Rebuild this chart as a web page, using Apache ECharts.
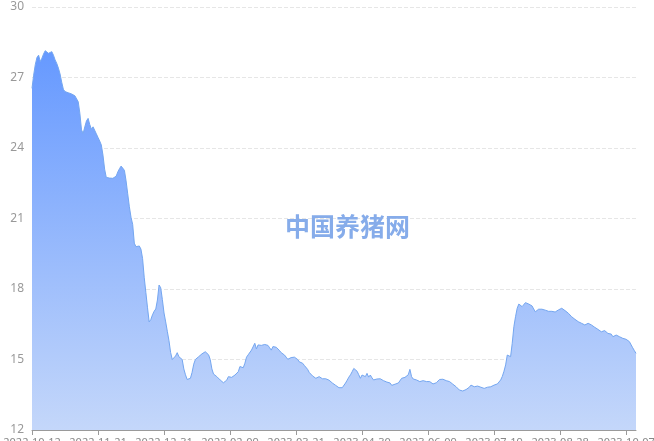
<!DOCTYPE html>
<html>
<head>
<meta charset="utf-8">
<script src="https://cdn.jsdelivr.net/npm/echarts@6/dist/echarts.min.js"></script>
<style>
html,body{margin:0;padding:0;background:#fff;}
#chart{width:654px;height:441px;}
</style>
</head>
<body>
<div id="chart"></div>
<script>
// Category range: daily dates
const startDate = '2022-10-12';
const dayCount = 367;

// Daily price values
const prices = [
26.54,27.1,27.55,27.85,27.95,27.68,27.82,28.0,28.14,28.12,
28.03,28.08,28.1,27.95,27.75,27.6,27.4,27.15,26.8,26.5,
26.4,26.47,26.35,26.38,26.3,26.26,26.22,26.18,25.97,25.48,
24.77,24.62,24.9,25.15,25.26,25.0,24.8,24.9,24.84,24.6,
24.45,24.3,24.13,23.7,23.1,22.75,22.71,22.72,22.7,22.71,
22.74,22.8,22.98,23.12,23.23,23.16,23.05,22.6,22.05,21.5,
21.05,20.75,19.95,19.8,19.88,19.83,19.7,19.3,18.5,17.85,
17.2,16.6,16.7,16.9,17.05,17.15,17.53,18.17,18.05,17.55,
16.98,16.6,16.2,15.8,15.3,15.0,14.95,15.15,15.29,15.12,
15.18,15.0,14.6,14.35,14.15,14.08,14.2,14.45,14.8,15.0,
15.08,15.12,15.18,15.24,15.28,15.33,15.3,15.2,15.0,14.6,
14.38,14.3,14.27,14.2,14.13,14.06,14.01,14.05,14.12,14.27,
14.25,14.24,14.3,14.34,14.4,14.48,14.7,14.62,14.65,14.84,
15.1,15.2,15.14,15.4,15.38,15.69,15.45,15.62,15.55,15.6,
15.66,15.64,15.66,15.6,15.5,15.4,15.55,15.56,15.52,15.45,
15.38,15.29,15.24,15.19,15.1,15.01,15.03,15.08,15.12,15.1,
15.09,15.0,14.9,14.87,14.84,14.75,14.67,14.58,14.45,14.4,
14.3,14.24,14.2,14.25,14.27,14.22,14.18,14.16,14.18,14.2,
14.12,14.07,14.0,13.96,13.9,13.85,13.8,13.77,13.8,13.87,
14.0,14.12,14.25,14.35,14.48,14.62,14.67,14.5,14.35,14.2,
14.34,14.3,14.27,14.41,14.25,14.34,14.22,14.13,14.15,14.17,
14.2,14.18,14.13,14.1,14.07,14.04,14.02,14.0,13.9,13.87,
13.95,13.99,14.0,14.05,14.2,14.22,14.24,14.2,14.35,14.58,
14.27,14.17,14.15,14.13,14.1,14.06,14.08,14.1,14.08,14.06,
14.06,14.06,14.0,13.96,13.98,14.01,14.08,14.15,14.2,14.16,
14.13,14.1,14.08,14.06,14.0,13.95,13.91,13.84,13.77,13.7,
13.63,13.66,13.7,13.72,13.73,13.82,13.91,13.88,13.84,13.86,
13.87,13.85,13.82,13.8,13.77,13.8,13.82,13.83,13.84,13.87,
13.91,13.93,13.96,14.03,14.13,14.28,14.5,14.77,15.19,15.26,
15.12,15.69,16.4,16.82,17.18,17.36,17.28,17.25,17.32,17.42,
17.46,17.36,17.39,17.28,17.15,17.03,17.1,17.14,17.18,17.14,
17.11,17.1,17.08,17.05,17.03,17.05,17.08,17.02,16.99,17.11,
17.15,17.18,17.1,17.08,17.11,16.97,16.9,16.82,16.75,16.71,
16.65,16.61,16.56,16.54,16.5,16.47,16.5,16.54,16.5,16.47,
16.42,16.37,16.32,16.28,16.22,16.18,16.2,16.23,16.15,16.11,
16.18,16.08,15.97,16.0,16.04,16.0,15.97,15.94,15.9,15.88,
15.86,15.8,15.76,15.68,15.5,15.38,15.26
];

const yMin = 12, yMax = 30, yStep = 3;
const watermark = '中国养猪网';

function buildDates(start, n) {
  const out = [];
  const d = new Date(start + 'T00:00:00Z');
  for (let i = 0; i < n; i++) {
    const t = new Date(d.getTime() + i * 86400000);
    const m = String(t.getUTCMonth() + 1).padStart(2, '0');
    const dd = String(t.getUTCDate()).padStart(2, '0');
    out.push(t.getUTCFullYear() + '-' + m + '-' + dd);
  }
  return out;
}
const dates = buildDates(startDate, dayCount);

const chart = echarts.init(document.getElementById('chart'), null, {renderer: 'canvas'});
chart.setOption({
  animation: false,
  backgroundColor: '#ffffff',
  grid: {left: 32, right: 18, top: 7, bottom: 11, containLabel: false, outerBoundsMode: 'none'},
  xAxis: {
    type: 'category',
    data: dates,
    boundaryGap: false,
    axisLine: {lineStyle: {color: '#9a9a9a'}},
    axisTick: {show: true, interval: 39, lineStyle: {color: '#9a9a9a'}},
    axisLabel: {interval: 39, color: '#888', fontSize: 11, fontFamily: 'Noto Sans', margin: 7}
  },
  yAxis: {
    type: 'value',
    min: yMin, max: yMax, interval: yStep,
    axisLine: {show: false},
    axisTick: {show: false},
    axisLabel: {color: '#999', fontSize: 12, fontFamily: 'Noto Sans', margin: 8},
    splitLine: {lineStyle: {type: 'dashed', color: '#e6e6e6'}}
  },
  graphic: [{
    type: 'text',
    left: 285, top: 214,
    z: 100,
    style: {text: watermark, fill: '#86acea', font: 'bold 25px "Noto Sans CJK SC"'}
  }],
  series: [{
    type: 'line',
    data: prices,
    showSymbol: false,
    symbol: 'none',
    smooth: false,
    lineStyle: {color: '#74a6f0', width: 1},
    areaStyle: {
      opacity: 1,
      color: new echarts.graphic.LinearGradient(0, 0, 0, 1, [
        {offset: 0, color: '#6699ff'},
        {offset: 1, color: '#c4d7fa'}
      ])
    }
  }]
});
</script>
</body>
</html>
